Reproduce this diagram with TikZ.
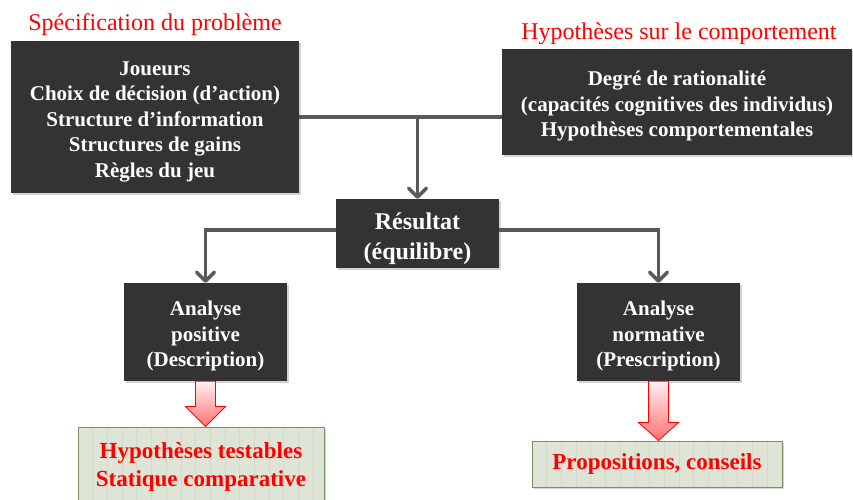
\documentclass[tikz,border=0pt]{standalone}
\usepackage{fontspec}
\setmainfont{Liberation Serif}
\usetikzlibrary{arrows.meta,shadows,calc}
\definecolor{boxdark}{HTML}{333333}
\definecolor{conn}{HTML}{595959}
\definecolor{greenfill}{HTML}{DEE4D6}
\definecolor{greenline}{HTML}{7D8F62}
\definecolor{stripecol}{HTML}{D2D9C8}
\newcommand\mytopstrut{\rule{0pt}{1.1em}}
\tikzset{
  darkbox/.style={fill=boxdark, text=white, align=center, inner sep=0pt,
    font=\bfseries\fontsize{21}{25.5}\selectfont,
    drop shadow={shadow xshift=1.5pt, shadow yshift=-2pt, opacity=0.35}},
  title/.style={text=red, font=\fontsize{24}{28}\selectfont, inner sep=0pt},
  greenbox/.style={fill=greenfill, draw=greenline, line width=1pt, text=red, align=center,
    font=\bfseries\fontsize{23}{28}\selectfont, inner sep=0pt,
    drop shadow={shadow xshift=1.5pt, shadow yshift=-2pt, opacity=0.35},
    path picture={\foreach \k in {1,...,17}{\draw[stripecol, line width=0.8pt]
      ([xshift=\k*14.7pt]path picture bounding box.north west) --
      ([xshift=\k*14.7pt]path picture bounding box.south west);}}},
  connector/.style={draw=conn, line width=3.5pt,
    -{Straight Barb[length=9pt, width=18pt, line cap=round, line join=round]}},
  redarrow/.style={draw=red, line width=0.8pt, top color=red!6, bottom color=red!55}
}
\begin{document}
\begin{tikzpicture}[x=1pt, y=-1pt]
\useasboundingbox (0,0) rectangle (853,499);
% titles
\node[title] (t1) at (155,25) {Spécification du problème};
\node[title] (t2) at (679,34) {Hypothèses sur le comportement};
% boxes
\node[darkbox, minimum width=288pt, minimum height=152pt] (spec) at (155,117)
  {\mytopstrut Joueurs\\Choix de décision (d’action)\\Structure d’information\\Structures de gains\\Règles du jeu};
\node[darkbox, minimum width=350pt, minimum height=106pt] (hyp) at (677,102)
  {\mytopstrut Degré de rationalité\\(capacités cognitives des individus)\\Hypothèses comportementales};
\node[darkbox, minimum width=163pt, minimum height=69pt, font=\bfseries\fontsize{24}{30}\selectfont] (res) at (417.5,233.5)
  {\mytopstrut Résultat\\(équilibre)};
\node[darkbox, minimum width=163pt, minimum height=98pt] (pos) at (205.5,332)
  {\mytopstrut Analyse\\positive\\(Description)};
\node[darkbox, minimum width=163pt, minimum height=98pt] (norm) at (658.5,332)
  {\mytopstrut Analyse\\normative\\(Prescription)};
\node[greenbox, minimum width=246pt, minimum height=80pt] (g1) at (201,467)
  {Hypothèses testables\\Statique comparative};
\node[greenbox, minimum width=250pt, minimum height=46pt] (g2) at (657,464)
  {Propositions, conseils};
% connectors
\coordinate (top) at (spec.east |- 0,117);
\draw[draw=conn, line width=3.5pt] (top) -- (top -| hyp.west);
\draw[connector] (top -| res.north) -- (res.north);
\draw[connector] ([yshift=3.5pt]res.west) -| (pos.north);
\draw[connector] ([yshift=3.5pt]res.east) -| (norm.north);
% red block arrows
\path[redarrow] ($(pos.south)+(-10,0)$) -- ($(pos.south |- g1.north)+(-10,-20)$)
  -- ($(pos.south |- g1.north)+(-20,-20)$) -- (pos.south |- g1.north)
  -- ($(pos.south |- g1.north)+(20,-20)$) -- ($(pos.south |- g1.north)+(10,-20)$)
  -- ($(pos.south)+(10,0)$) -- cycle;
\path[redarrow] ($(norm.south)+(-10,0)$) -- ($(norm.south |- g2.north)+(-10,-18)$)
  -- ($(norm.south |- g2.north)+(-20,-18)$) -- (norm.south |- g2.north)
  -- ($(norm.south |- g2.north)+(20,-18)$) -- ($(norm.south |- g2.north)+(10,-18)$)
  -- ($(norm.south)+(10,0)$) -- cycle;
\end{tikzpicture}
\end{document}
